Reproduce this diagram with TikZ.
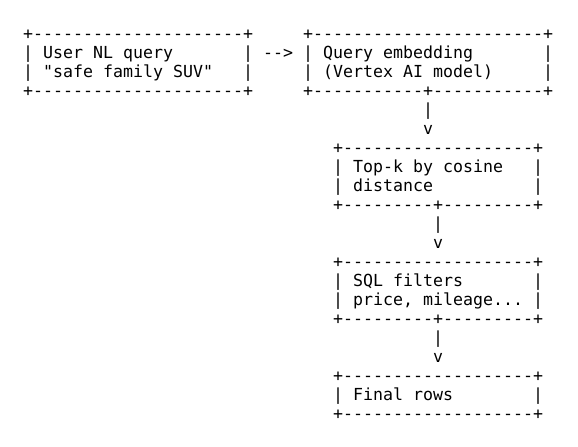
\documentclass[tikz,border=0pt]{standalone}
\usepackage{fontspec}
\setmonofont{DejaVu Sans Mono}
\usepackage{tikz}

\begin{document}
\begin{tikzpicture}[x=10pt, y=-19pt, line join=round,
    every node/.style={font=\ttfamily\fontsize{16.6}{19}\selectfont,
                       inner sep=0pt, anchor=base west}]

    % one unit in x is one character cell, one unit in y is one text line
    % (c,r) = left edge of column c on the baseline of line r
    \useasboundingbox (-2.3,-1.053) rectangle (55.5,22.473);

    % Box 1: user query, columns 0--22
    \node (userTop) at (0,1) {+---------------------+};
    \node (userA)   at (0,2) {| User NL query~~~~~~~|};
    \node (userB)   at (0,3) {| "safe family SUV"~~~|};
    \node (userBot) at (0,4) {+---------------------+};

    % arrow to the embedding box
    \node (toEmb) at (24,2) {-->};

    % Box 2: embedding, columns 28--52
    \node (embTop) at (28,1) {+-----------------------+};
    \node (embA)   at (28,2) {| Query embedding~~~~~~~|};
    \node (embB)   at (28,3) {| (Vertex AI model)~~~~~|};
    \node (embBot) at (28,4) {+-----------+-----------+};

    % down to top-k
    \node (embBar) at (40,5) {|};
    \node (embV)   at (40,6) {v};

    % Box 3: top-k, columns 31--51
    \node (topkTop) at (31,7)  {+-------------------+};
    \node (topkA)   at (31,8)  {| Top-k by cosine~~~|};
    \node (topkB)   at (31,9)  {| distance~~~~~~~~~~|};
    \node (topkBot) at (31,10) {+---------+---------+};

    % down to SQL filters
    \node (topkBar) at (41,11) {|};
    \node (topkV)   at (41,12) {v};

    % Box 4: SQL filters
    \node (sqlTop) at (31,13) {+-------------------+};
    \node (sqlA)   at (31,14) {| SQL filters~~~~~~~|};
    \node (sqlB)   at (31,15) {| price, mileage...~|};
    \node (sqlBot) at (31,16) {+---------+---------+};

    % down to final rows
    \node (sqlBar) at (41,17) {|};
    \node (sqlV)   at (41,18) {v};

    % Box 5: final rows
    \node (finTop) at (31,19) {+-------------------+};
    \node (finA)   at (31,20) {| Final rows~~~~~~~~|};
    \node (finBot) at (31,21) {+-------------------+};

\end{tikzpicture}
\end{document}
